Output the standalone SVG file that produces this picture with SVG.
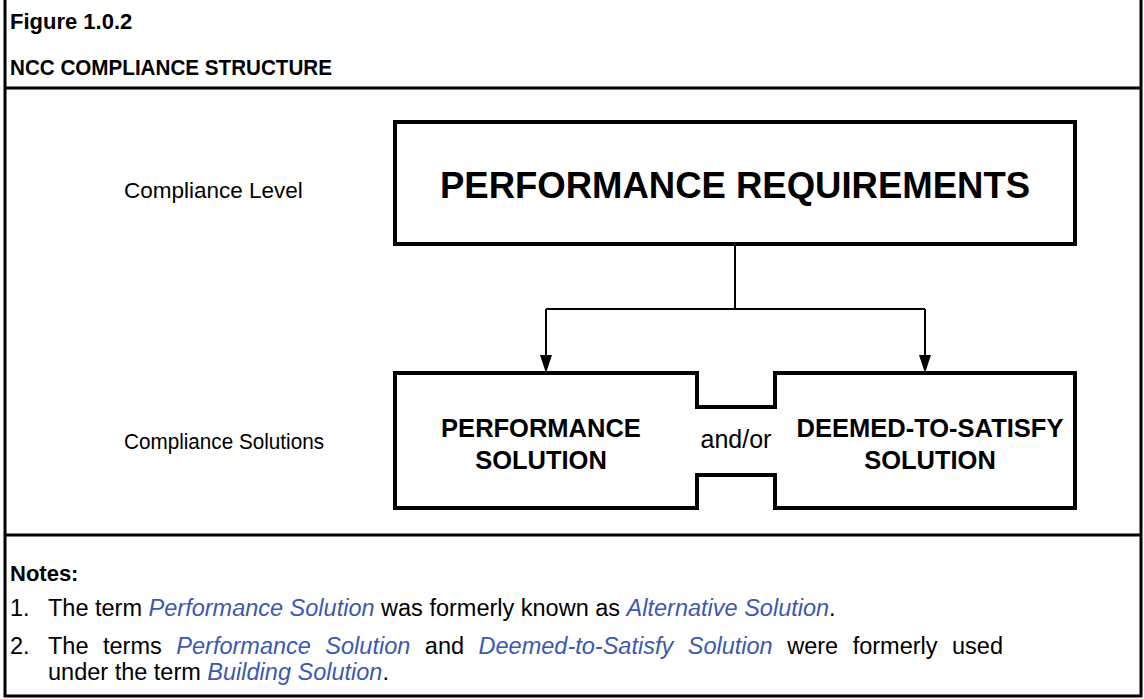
<svg xmlns="http://www.w3.org/2000/svg" width="1144" height="699" viewBox="0 0 1144 699">
<style>
text{font-family:"Liberation Sans",Arial,sans-serif;fill:#000}
.b{font-weight:bold}
.frame{stroke:#000;stroke-width:3;fill:none}
.box{stroke:#000;stroke-width:4;fill:#fff}
.conn{stroke:#000;stroke-width:2;fill:none}
.lbl{font-size:22.5px}
.nb{font-size:25.5px;font-weight:bold;text-anchor:middle}
.note{font-size:23.5px}
.t{fill:#3b59b0;font-style:italic}
</style>
<rect width="1144" height="699" fill="#fff"/>
<g id="frame">
<path class="frame" d="M5,0 V697 M1141,0 V697 M4,696 H1142 M4,88 H1142 M4,535 H1142"/>
<text class="b" x="10" y="29" font-size="22">Figure 1.0.2</text>
<text class="b" x="10" y="75" font-size="22" textLength="322" lengthAdjust="spacingAndGlyphs">NCC COMPLIANCE STRUCTURE</text>
</g>
<g id="labels">
<text class="lbl" x="124" y="198">Compliance Level</text>
<text class="lbl" x="124" y="449" textLength="200" lengthAdjust="spacingAndGlyphs">Compliance Solutions</text>
</g>
<g id="connectors">
<path class="conn" d="M735,244 V309 M546,309 H925"/>
<path class="conn" d="M546,309 V356"/>
<path class="conn" d="M925,309 V356"/>
<path d="M540,355 L552,355 L546,373 Z" fill="#000"/>
<path d="M919,355 L931,355 L925,373 Z" fill="#000"/>
</g>
<g id="performance-requirements">
<rect class="box" x="395" y="122" width="680" height="122"/>
<text class="b" x="735" y="198" font-size="36.5" text-anchor="middle">PERFORMANCE REQUIREMENTS</text>
</g>
<g id="performance-solution">
<path class="box" d="M736,407 H697 V373 H395 V508 H697 V475 H736"/>
<text class="nb" x="541" y="437">PERFORMANCE</text>
<text class="nb" x="541" y="469">SOLUTION</text>
</g>
<g id="deemed-to-satisfy-solution">
<path class="box" d="M736,407 H775 V373 H1075 V508 H775 V475 H736"/>
<text class="nb" x="930" y="437">DEEMED-TO-SATISFY</text>
<text class="nb" x="930" y="469">SOLUTION</text>
</g>
<g id="andor">
<text x="736" y="448" font-size="25" text-anchor="middle">and/or</text>
</g>
<g id="notes">
<text class="b" x="10" y="581" font-size="22">Notes:</text>
<text class="note" x="10" y="616">1.</text>
<text class="note" x="48" y="616">The term <tspan class="t">Performance Solution</tspan> was formerly known as <tspan class="t">Alternative Solution</tspan>.</text>
<text class="note" x="10" y="654">2.</text>
<text class="note" x="48" y="654" word-spacing="8">The terms <tspan class="t">Performance Solution</tspan> and <tspan class="t">Deemed-to-Satisfy Solution</tspan> were formerly used</text>
<text class="note" x="48" y="680">under the term <tspan class="t">Building Solution</tspan>.</text>
</g>
</svg>
